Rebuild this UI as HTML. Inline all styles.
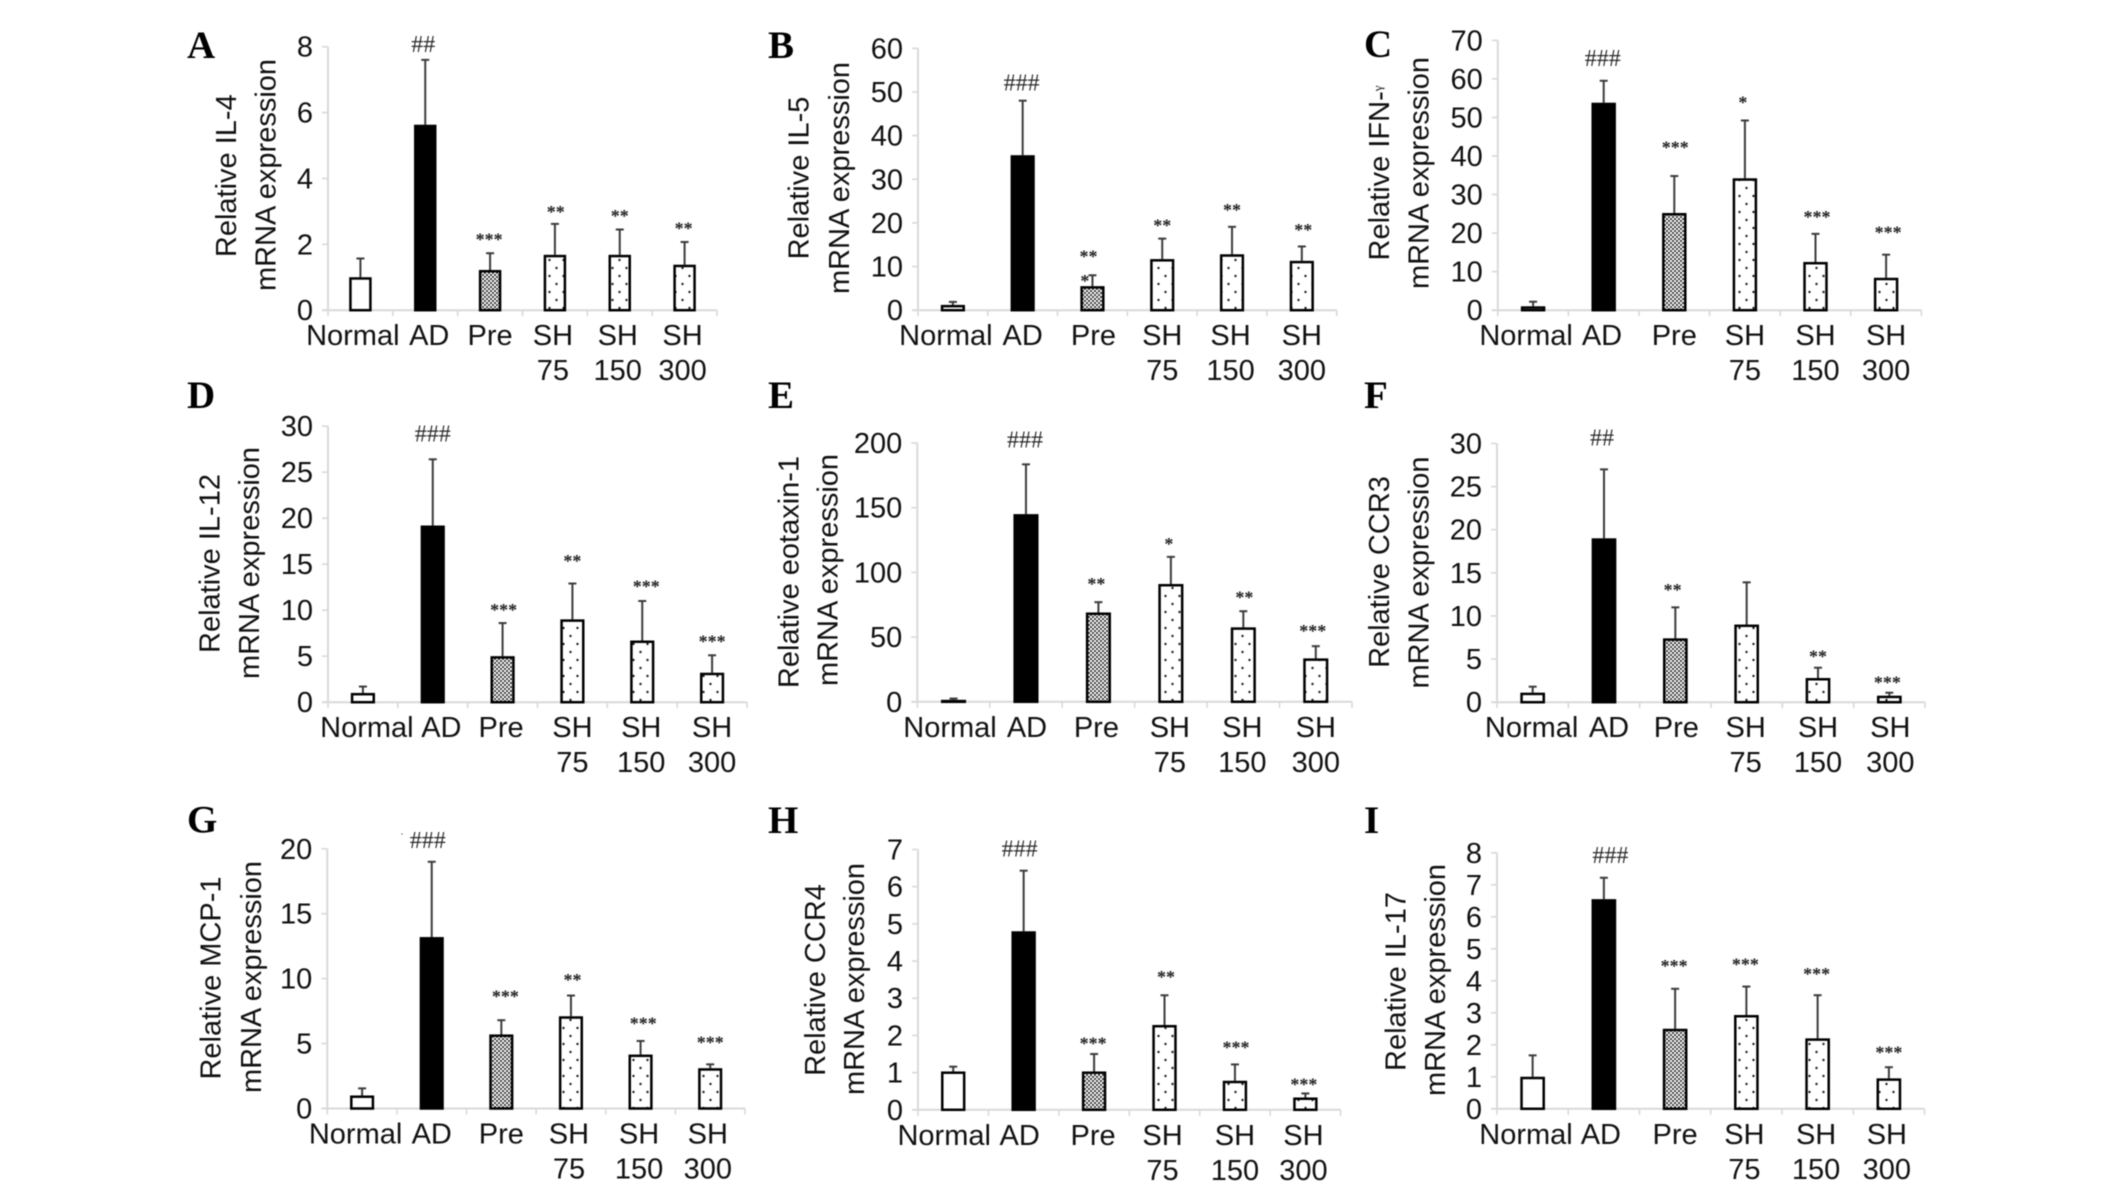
<!DOCTYPE html>
<html lang="en">
<head>
<meta charset="utf-8">
<title>Relative mRNA expression panels</title>
<style>
html,body{margin:0;padding:0;background:#fff;width:2126px;height:1190px;overflow:hidden}
svg{display:block;filter:blur(0.45px)}
text{font-family:"Liberation Sans",sans-serif;fill:#111}
.letter{font-family:"Liberation Serif",serif;font-weight:bold;font-size:39px;fill:#000}
.note{font-family:"Liberation Serif",serif;fill:#2a2a2a}
.star{font-weight:bold;fill:#1c1c1c}
</style>
</head>
<body>
<svg id="figure" xmlns="http://www.w3.org/2000/svg" width="2126" height="1190" viewBox="0 0 2126 1190">
<defs>
<pattern id="dense-dots" width="4" height="4" patternUnits="userSpaceOnUse"><rect width="4" height="4" fill="#fff"/><circle cx="1" cy="1" r="1.05" fill="#222"/><circle cx="3" cy="3" r="1.05" fill="#222"/></pattern>
<pattern id="sparse-dots" width="14" height="16" patternUnits="userSpaceOnUse"><rect width="14" height="16" fill="#fff"/><circle cx="3.5" cy="4" r="1.2" fill="#222"/><circle cx="10.5" cy="12" r="1.2" fill="#222"/></pattern>
</defs>
</svg>
<script>
const categories = ["Normal", "AD", "Pre", "SH 75", "SH 150", "SH 300"];

const il4Ticks = [0, 2, 4, 6, 8];
const il4Values = [1, 5.63, 1.22, 1.68, 1.68, 1.38];
const il4Errors = [0.57, 1.97, 0.51, 0.94, 0.77, 0.69];
const il4Notes = ["", "##", "***", "**", "**", "**"];

const il5Ticks = [0, 10, 20, 30, 40, 50, 60];
const il5Values = [1.2, 35.5, 5.5, 11.7, 12.8, 11.3];
const il5Errors = [0.7, 12.5, 2.5, 4.7, 6.3, 3.3];
const il5Notes = ["", "###", "**", "**", "**", "**"];

const ifnTicks = [0, 10, 20, 30, 40, 50, 60, 70];
const ifnValues = [1, 53.8, 25.2, 34.2, 12.5, 8.4];
const ifnErrors = [1.2, 5.7, 9.6, 15, 7.3, 6];
const ifnNotes = ["", "###", "***", "*", "***", "***"];

const il12Ticks = [0, 5, 10, 15, 20, 25, 30];
const il12Values = [1, 19.2, 5, 9, 6.7, 3.2];
const il12Errors = [0.7, 7.2, 3.6, 3.9, 4.3, 1.9];
const il12Notes = ["", "###", "***", "**", "***", "***"];

const eotaxinTicks = [0, 50, 100, 150, 200];
const eotaxinValues = [1.5, 145, 69, 91, 57.5, 33.5];
const eotaxinErrors = [1, 38.5, 8, 21, 12.5, 9.5];
const eotaxinNotes = ["", "###", "**", "*", "**", "***"];

const ccr3Ticks = [0, 5, 10, 15, 20, 25, 30];
const ccr3Values = [1.1, 19, 7.4, 9, 2.8, 0.75];
const ccr3Errors = [0.7, 8, 3.6, 4.9, 1.2, 0.35];
const ccr3Notes = ["", "##", "**", "", "**", "***"];

const mcp1Ticks = [0, 5, 10, 15, 20];
const mcp1Values = [1, 13.2, 5.7, 7.1, 4.15, 3.1];
const mcp1Errors = [0.55, 5.8, 1.1, 1.6, 1.05, 0.3];
const mcp1Notes = ["", "###", "***", "**", "***", "***"];

const ccr4Ticks = [0, 1, 2, 3, 4, 5, 6, 7];
const ccr4Values = [1.03, 4.8, 1.03, 2.28, 0.78, 0.33];
const ccr4Errors = [0.13, 1.63, 0.47, 0.8, 0.44, 0.11];
const ccr4Notes = ["", "###", "***", "**", "***", "***"];

const il17Ticks = [0, 1, 2, 3, 4, 5, 6, 7, 8];
const il17Values = [1, 6.55, 2.5, 2.93, 2.2, 0.95];
const il17Errors = [0.67, 0.67, 1.25, 0.89, 1.35, 0.35];
const il17Notes = ["", "###", "***", "***", "***", "***"];

/* Layout only: frame geometry and small label nudges for each panel. */
const panels = [
  {id:"a", letter:"A", lx:187, ly:58, x0:328, x1:717, yTop:46.7, yBase:310.2,
   t1:"Relative IL-4", t1x:236, t1y:175.7, t2x:275.4, t2y:175,
   ticks:il4Ticks, values:il4Values, errors:il4Errors, notes:il4Notes,
   labelShift:[-7.6,4,0,-2,-2,-2], noteShift:[0,-2,-1,0.8,0,-1], noteGap:[0,15.7,15.7,13.7,15.7,15.7]},
  {id:"b", letter:"B", lx:768, ly:58, x0:918, x1:1336.7, yTop:48.3, yBase:310.2,
   t1:"Relative IL-5", t1x:808.7, t1y:178, t2x:849, t2y:178,
   ticks:il5Ticks, values:il5Values, errors:il5Errors, notes:il5Notes,
   labelShift:[-7,0,1,0,-1.5,0], noteShift:[0,-1,-4,0,0,1.5], noteGap:[0,18,20.7,15.3,18.7,18.7]},
  {id:"c", letter:"C", lx:1364, ly:57, x0:1497.8, x1:1921.4, yTop:40.3, yBase:310.2,
   t1:"Relative IFN-", gamma:true, t1x:1389, t1y:173, t2x:1428.6, t2y:173,
   ticks:ifnTicks, values:ifnValues, errors:ifnErrors, notes:ifnNotes,
   labelShift:[-7,-1.7,0,0,0,0], noteShift:[0,-1,1,-2,1.5,2], noteGap:[0,22.7,30.7,20,19,24.3]},
  {id:"d", letter:"D", lx:187, ly:408, x0:328, x1:747, yTop:426.2, yBase:702.2,
   t1:"Relative IL-12", t1x:219.5, t1y:563.5, t2x:259, t2y:563,
   ticks:il12Ticks, values:il12Values, errors:il12Errors, notes:il12Notes,
   labelShift:[4,8.6,-1.5,0,-1,0], noteShift:[0,0,1,0,4,0], noteGap:[0,26,15.3,24.3,16.7,16]},
  {id:"e", letter:"E", lx:768, ly:408, x0:917.3, x1:1352, yTop:443, yBase:701.8,
   t1:"Relative eotaxin-1", t1x:798.4, t1y:572, t2x:837.5, t2y:570,
   ticks:eotaxinTicks, values:eotaxinValues, errors:eotaxinErrors, notes:eotaxinNotes,
   labelShift:[-3.5,1,-2,-1,-1,0], noteShift:[0,-1,-2,-2,1,-3], noteGap:[0,24.7,20,14.7,15.7,17.3]},
  {id:"f", letter:"F", lx:1364, ly:408, x0:1497, x1:1925, yTop:443.5, yBase:702.2,
   t1:"Relative CCR3", t1x:1389, t1y:572, t2x:1428.6, t2y:572.5,
   ticks:ccr3Ticks, values:ccr3Values, errors:ccr3Errors, notes:ccr3Notes,
   labelShift:[-1,5,1,-1,0,1], noteShift:[0,-2,-2.7,0,0,-2], noteGap:[0,32,19.3,0,13,12.3]},
  {id:"g", letter:"G", lx:187, ly:832.7, x0:327.3, x1:745, yTop:848.8, yBase:1108.5,
   t1:"Relative MCP-1", t1x:220.7, t1y:978, t2x:261, t2y:977,
   ticks:mcp1Ticks, values:mcp1Values, errors:mcp1Errors, notes:mcp1Notes,
   labelShift:[-6.5,0,0,-2,-1.5,-2.4], noteShift:[0,-4,4,1.5,2.7,0], noteGap:[0,22,25.7,17.7,19.3,23.7]},
  {id:"h", letter:"H", lx:768, ly:833, x0:918, x1:1340.6, yTop:849.5, yBase:1109.8,
   t1:"Relative CCR4", t1x:824.8, t1y:980, t2x:864, t2y:979,
   ticks:ccr4Ticks, values:ccr4Values, errors:ccr4Errors, notes:ccr4Notes,
   labelShift:[-9,-4,-1,-2,0,-2], noteShift:[0,-4,-1,1.5,1,-1.5], noteGap:[0,22,12.3,20.3,19,11]},
  {id:"i", letter:"I", lx:1364, ly:833, x0:1497, x1:1924.5, yTop:852.8, yBase:1108.8,
   t1:"Relative IL-17", t1x:1405.7, t1y:981.5, t2x:1445, t2y:980,
   ticks:il17Ticks, values:il17Values, errors:il17Errors, notes:il17Notes,
   labelShift:[-6.6,-3,0,-2,-1.5,-2], noteShift:[0,6.5,-1,-1,-1,0], noteGap:[0,23,24.7,24,23,16.7]}
];

const SVG_NS = "http://www.w3.org/2000/svg";
const figure = document.getElementById("figure");

function make(parent, tag, attrs, text) {
  const node = document.createElementNS(SVG_NS, tag);
  for (const key in attrs) node.setAttribute(key, attrs[key]);
  if (text !== undefined) node.textContent = text;
  parent.appendChild(node);
  return node;
}

function barFill(index) {
  if (index === 0) return "#fff";
  if (index === 1) return "#000";
  if (index === 2) return "url(#dense-dots)";
  return "url(#sparse-dots)";
}

function drawPanel(p) {
  const yMax = p.ticks[p.ticks.length - 1];
  const yScale = function (v) { return p.yBase - (v / yMax) * (p.yBase - p.yTop); };
  const step = (p.x1 - p.x0) / categories.length;
  const xScale = function (i) { return p.x0 + step * (i + 0.5); };
  const barW = step * 0.345;

  const group = make(figure, "g", {});
  
  

  const letter = make(group, "text", {x:p.lx, y:p.ly, "class":"letter"}, p.letter);
  
  

  const yAxis = make(group, "line", {x1:p.x0, x2:p.x0, y1:p.yTop, y2:p.yBase, stroke:"#d9d9d9", "stroke-width":2});
  
  

  const xAxis = make(group, "line", {x1:p.x0 - 6, x2:p.x1, y1:p.yBase, y2:p.yBase, stroke:"#d9d9d9", "stroke-width":2});
  
  

  p.ticks.forEach(function (tick) {
    const y = yScale(tick);
    const mark = make(group, "line", {x1:p.x0 - 6, x2:p.x0, y1:y, y2:y, stroke:"#d9d9d9", "stroke-width":1.6});
    
    
    const label = make(group, "text", {x:p.x0 - 15, y:y + 10, "text-anchor":"end", "font-size":29}, String(tick));
    
    
  });

  for (let i = 0; i <= categories.length; i++) {
    const x = p.x0 + step * i;
    const mark = make(group, "line", {x1:x, x2:x, y1:p.yBase, y2:p.yBase + 6, stroke:"#d9d9d9", "stroke-width":1.6});
    
    
  }

  const line1 = make(group, "text", {transform:"translate(" + p.t1x + " " + p.t1y + ") rotate(-90)", "text-anchor":"middle", "font-size":29}, p.t1);
  
  
  if (p.gamma) {
    const g = make(line1, "tspan", {"font-size":13, dy:-7, "font-family":"Liberation Serif"}, "\u03B3");
    
    
  }
  const line2 = make(group, "text", {transform:"translate(" + p.t2x + " " + p.t2y + ") rotate(-90)", "text-anchor":"middle", "font-size":29}, "mRNA expression");
  
  

  categories.forEach(function (cat, i) {
    const cx = xScale(i);
    const top = yScale(p.values[i]);
    const errTop = yScale(p.values[i] + p.errors[i]);

    const stem = make(group, "line", {x1:cx, x2:cx, y1:top, y2:errTop, stroke:"#3c3c3c", "stroke-width":2});
    
    
    const cap = make(group, "line", {x1:cx - 4, x2:cx + 4, y1:errTop, y2:errTop, stroke:"#3c3c3c", "stroke-width":2});
    
    

    const bar = make(group, "rect", {x:cx - barW / 2 + 1.2, y:top + 1.2, width:barW - 2.4, height:Math.max(0, p.yBase - top - 1.2), fill:barFill(i), stroke:"#000", "stroke-width":2.5});
    
    

    const parts = cat.split(" ");
    const lx = cx + p.labelShift[i];
    const lab = make(group, "text", {x:lx, y:p.yBase + 35, "text-anchor":"middle", "font-size":29}, parts[0]);
    
    
    if (parts[1]) {
      const lab2 = make(group, "text", {x:lx, y:p.yBase + 70, "text-anchor":"middle", "font-size":29}, parts[1]);
      
      
    }

    const txt = p.notes[i];
    if (txt) {
      const isHash = txt.charAt(0) === "#";
      const note = make(group, "text", {x:cx + p.noteShift[i], y:errTop - p.noteGap[i] + 8, "text-anchor":"middle", "class":isHash ? "note" : "note star", "font-size":isHash ? 24 : 18}, txt);
      
      
    }
  });

  if (p.id === "b") {
    const extra = make(group, "text", {x:xScale(2) - 7.6, y:yScale(p.values[2] + p.errors[2]) + 3.6 + 8, "text-anchor":"middle", "class":"note star", "font-size":18}, "*");
    
    
  }
  if (p.id === "g") {
    const speck = make(group, "circle", {cx:402, cy:834, r:0.8, fill:"#777"});
    
    
  }
}

panels.forEach(drawPanel);
</script>
</body>
</html>
